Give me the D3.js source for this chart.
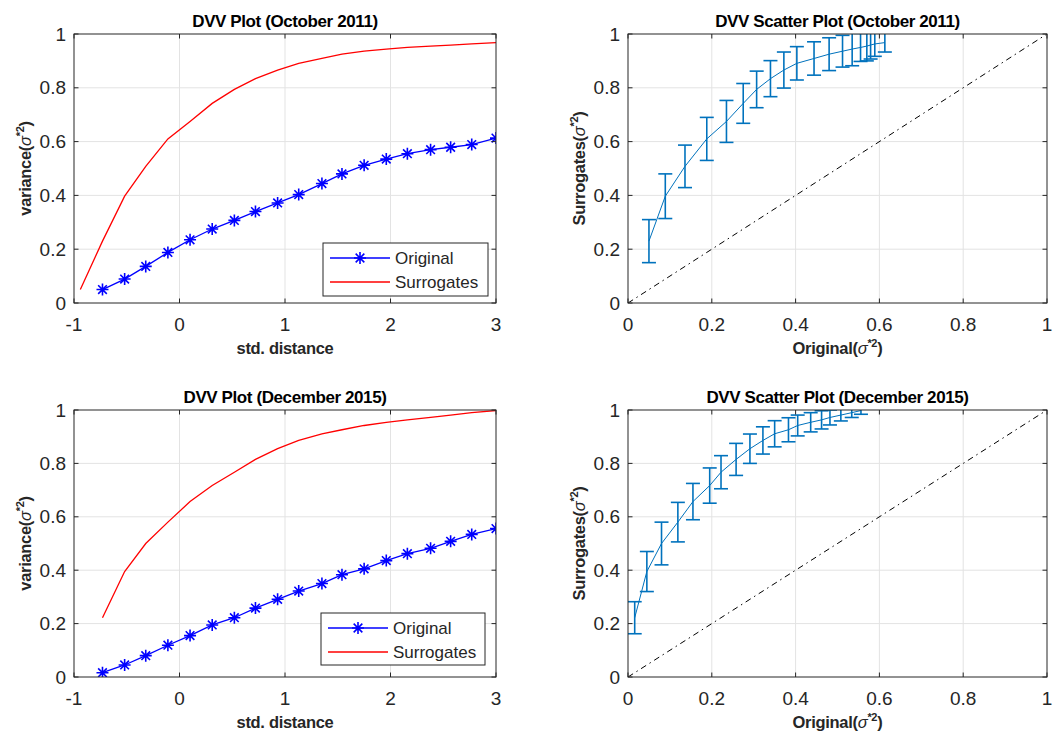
<!DOCTYPE html>
<html>
<head>
<meta charset="utf-8">
<script src="https://cdn.jsdelivr.net/npm/d3@7"></script>
<style>
  html, body { margin: 0; padding: 0; background: #fff; }
  svg { display: block; font-family: "Liberation Sans", Arial, Helvetica, sans-serif; }
</style>
</head>
<body>
<svg id="fig" width="1057" height="738"></svg>
<script>
// ---- data -------------------------------------------------------------
// standardised distances of the DVV curve
const distOriginal = [-0.73, -0.52, -0.32, -0.11, 0.10, 0.31, 0.52, 0.72, 0.93, 1.13,
                      1.35, 1.54, 1.75, 1.96, 2.16, 2.38, 2.57, 2.77, 3.00];
const distSurrOct  = [-0.94, -0.73, -0.52, -0.32, -0.11, 0.10, 0.31, 0.52, 0.72, 0.93,
                      1.13, 1.35, 1.54, 1.75, 1.96, 2.16, 2.38, 2.57, 2.77, 3.00];

// October 2011
const origOct = [0.050, 0.089, 0.136, 0.188, 0.235, 0.275, 0.307, 0.340, 0.372, 0.403,
                 0.444, 0.480, 0.512, 0.535, 0.555, 0.570, 0.579, 0.589, 0.613];
const surrOct = [0.050, 0.230, 0.397, 0.508, 0.610, 0.675, 0.742, 0.794, 0.834, 0.866,
                 0.891, 0.909, 0.925, 0.936, 0.944, 0.950, 0.955, 0.959, 0.963, 0.968];
const errOct  = [0.080, 0.083, 0.079, 0.080, 0.078, 0.074, 0.068, 0.067, 0.067, 0.062,
                 0.062, 0.061, 0.059, 0.062, 0.052, 0.055, 0.052, 0.046, 0.035];

// December 2015
const origDec = [0.016, 0.045, 0.080, 0.119, 0.155, 0.195, 0.222, 0.258, 0.291, 0.322,
                 0.350, 0.383, 0.405, 0.436, 0.462, 0.482, 0.508, 0.534, 0.556];
const surrDec = [0.222, 0.395, 0.500, 0.580, 0.657, 0.717, 0.767, 0.815, 0.855, 0.886,
                 0.911, 0.926, 0.942, 0.954, 0.963, 0.972, 0.981, 0.990, 0.998];
const errDec  = [0.060, 0.075, 0.080, 0.074, 0.068, 0.066, 0.062, 0.060, 0.055, 0.051,
                 0.049, 0.045, 0.039, 0.036, 0.034, 0.028, 0.022, 0.018, 0.014];

const distTicks  = [-1, 0, 1, 2, 3];
const unitTicks  = [0, 0.2, 0.4, 0.6, 0.8, 1];
const legendNames = ["Original", "Surrogates"];

// ---- styling ----------------------------------------------------------
const AX = "#262626", GRID = "#e3e3e3";
const BLUE = "#0000ff", RED = "#ff0000", EB = "#0072bd";
const TICK_FS = 19, LABEL_FS = 16.5, TITLE_FS = 17, LEG_FS = 17;

const svg = d3.select("#fig");

let clipId = 0;

function makeAxes(box, xDomain, xTicks, yTicks, title, xLabel, yLabelMain) {
  const g = svg.append("g");
  const x = d3.scaleLinear().domain(xDomain).range([box.l, box.l + box.w]);
  const y = d3.scaleLinear().domain([0, 1]).range([box.t + box.h, box.t]);

  // grid
  g.append("g").selectAll("line").data(xTicks.slice(1, -1)).join("line")
    .attr("x1", d => x(d)).attr("x2", d => x(d))
    .attr("y1", box.t).attr("y2", box.t + box.h)
    .attr("stroke", GRID).attr("stroke-width", 1);
  g.append("g").selectAll("line").data(yTicks.slice(1, -1)).join("line")
    .attr("y1", d => y(d)).attr("y2", d => y(d))
    .attr("x1", box.l).attr("x2", box.l + box.w)
    .attr("stroke", GRID).attr("stroke-width", 1);

  const id = "clip" + (clipId++);
  svg.append("clipPath").attr("id", id).append("rect")
    .attr("x", box.l).attr("y", box.t).attr("width", box.w).attr("height", box.h);
  const plot = g.append("g").attr("clip-path", `url(#${id})`);

  // box and inward ticks (raised above the data layer later)
  const frame = g.append("g").attr("class", "frame");
  frame.append("rect").attr("x", box.l).attr("y", box.t).attr("width", box.w).attr("height", box.h)
    .attr("fill", "none").attr("stroke", AX).attr("stroke-width", 1);
  const tl = 4.5;
  xTicks.forEach(d => {
    frame.append("line").attr("x1", x(d)).attr("x2", x(d)).attr("y1", box.t + box.h).attr("y2", box.t + box.h - tl).attr("stroke", AX);
    frame.append("line").attr("x1", x(d)).attr("x2", x(d)).attr("y1", box.t).attr("y2", box.t + tl).attr("stroke", AX);
  });
  yTicks.forEach(d => {
    frame.append("line").attr("y1", y(d)).attr("y2", y(d)).attr("x1", box.l).attr("x2", box.l + tl).attr("stroke", AX);
    frame.append("line").attr("y1", y(d)).attr("y2", y(d)).attr("x1", box.l + box.w).attr("x2", box.l + box.w - tl).attr("stroke", AX);
  });

  // tick labels
  g.append("g").selectAll("text").data(xTicks).join("text")
    .attr("x", d => x(d)).attr("y", box.t + box.h + 21).attr("dy", "0.35em")
    .attr("text-anchor", "middle").attr("font-size", TICK_FS).attr("fill", AX)
    .text(d => String(d));
  g.append("g").selectAll("text").data(yTicks).join("text")
    .attr("x", box.l - 8).attr("y", d => y(d)).attr("dy", "0.35em")
    .attr("text-anchor", "end").attr("font-size", TICK_FS).attr("fill", AX)
    .text(d => String(d));

  // title
  g.append("text").attr("x", box.l + box.w / 2).attr("y", box.t - 13).attr("dy", "0.36em")
    .attr("text-anchor", "middle").attr("font-size", TITLE_FS).attr("font-weight", "bold")
    .attr("letter-spacing", "-0.4").attr("fill", "#000").text(title);

  // x label
  sigmaLabel(g.append("text").attr("x", box.l + box.w / 2).attr("y", box.t + box.h + 45).attr("dy", "0.35em"),
             xLabel.main, xLabel.sigma);
  // y label
  const cx = box.l - 49, cy = box.t + box.h / 2;
  sigmaLabel(g.append("text").attr("transform", `translate(${cx},${cy}) rotate(-90)`).attr("dy", "0.35em"),
             yLabelMain.main, yLabelMain.sigma);

  return { g, plot, frame, x, y };
}

function sigmaLabel(t, main, withSigma) {
  t.attr("text-anchor", "middle").attr("font-size", LABEL_FS).attr("font-weight", "bold")
   .attr("letter-spacing", "-0.3").attr("fill", AX);
  t.append("tspan").text(main);
  if (withSigma) {
    t.append("tspan").text("(");
    t.append("tspan").attr("font-style", "italic").attr("font-weight", "normal").text("σ");
    t.append("tspan").attr("dy", -7).attr("font-size", 11).text("*2");
    t.append("tspan").attr("dy", 7).text(")");
  }
}

// asterisk marker path
function asterisk(r) {
  const d = r * 0.72;
  return `M${-r},0H${r}M0,${-r}V${r}M${-d},${-d}L${d},${d}M${-d},${d}L${d},${-d}`;
}

function dvvPlot(box, dOrig, orig, dSurr, surr, title, legBox) {
  const a = makeAxes(box, [-1, 3], distTicks, unitTicks, title,
                     { main: "std. distance", sigma: false },
                     { main: "variance", sigma: true });
  const line = d3.line().x(d => a.x(d[0])).y(d => a.y(d[1]));
  const origPts = d3.zip(dOrig, orig);
  a.plot.append("path").attr("d", line(origPts)).attr("fill", "none")
    .attr("stroke", BLUE).attr("stroke-width", 1.3);
  a.plot.append("g").selectAll("path").data(origPts).join("path")
    .attr("transform", d => `translate(${a.x(d[0])},${a.y(d[1])})`)
    .attr("d", asterisk(6)).attr("stroke", BLUE).attr("stroke-width", 1.6).attr("fill", "none");
  a.plot.append("path").attr("d", line(d3.zip(dSurr, surr))).attr("fill", "none")
    .attr("stroke", RED).attr("stroke-width", 1.3);
  a.frame.raise();

  // legend
  const lg = a.g.append("g");
  lg.append("rect").attr("x", legBox.x).attr("y", legBox.y).attr("width", legBox.w).attr("height", legBox.h)
    .attr("fill", "#fff").attr("stroke", AX).attr("stroke-width", 1);
  const rows = [legBox.y + 15, legBox.y + 39];
  const lx1 = legBox.x + 7, lx2 = legBox.x + 67;
  legendNames.forEach((name, i) => {
    const col = i === 0 ? BLUE : RED;
    lg.append("line").attr("x1", lx1).attr("x2", lx2).attr("y1", rows[i]).attr("y2", rows[i])
      .attr("stroke", col).attr("stroke-width", 1.3);
    if (i === 0) lg.append("path").attr("transform", `translate(${(lx1 + lx2) / 2},${rows[i]})`)
      .attr("d", asterisk(6)).attr("stroke", col).attr("stroke-width", 1.6);
    lg.append("text").attr("x", legBox.x + 72).attr("y", rows[i]).attr("dy", "0.35em")
      .attr("font-size", LEG_FS).attr("fill", AX).text(name);
  });
}

function scatterPlot(box, orig, surr, err, title) {
  const a = makeAxes(box, [0, 1], unitTicks, unitTicks, title,
                     { main: "Original", sigma: true },
                     { main: "Surrogates", sigma: true });
  // identity reference line
  a.plot.append("line").attr("x1", a.x(0)).attr("y1", a.y(0)).attr("x2", a.x(1)).attr("y2", a.y(1))
    .attr("stroke", "#000").attr("stroke-width", 1).attr("stroke-dasharray", "6,4,1.5,4");

  const pts = d3.zip(orig, surr, err);
  a.plot.append("path").attr("d", d3.line().x(d => a.x(d[0])).y(d => a.y(d[1]))(pts))
    .attr("fill", "none").attr("stroke", EB).attr("stroke-width", 1);
  const cap = 7;
  const bars = a.plot.append("g").attr("stroke", EB).attr("stroke-width", 1.6);
  pts.forEach(d => {
    const px = a.x(d[0]), y1 = a.y(d[1] - d[2]), y2 = a.y(d[1] + d[2]);
    bars.append("line").attr("x1", px).attr("x2", px).attr("y1", y1).attr("y2", y2);
    bars.append("line").attr("x1", px - cap).attr("x2", px + cap).attr("y1", y1).attr("y2", y1);
    bars.append("line").attr("x1", px - cap).attr("x2", px + cap).attr("y1", y2).attr("y2", y2);
  });
  a.frame.raise();
}

dvvPlot({ l: 74, t: 34, w: 422, h: 269 }, distOriginal, origOct, distSurrOct, surrOct,
        "DVV Plot (October 2011)", { x: 323, y: 243, w: 165, h: 53 });
scatterPlot({ l: 628, t: 34, w: 419, h: 269 }, origOct, surrOct.slice(1), errOct,
        "DVV Scatter Plot (October 2011)");
dvvPlot({ l: 74, t: 410, w: 422, h: 267 }, distOriginal, origDec, distOriginal, surrDec,
        "DVV Plot (December 2015)", { x: 321, y: 613, w: 164, h: 52 });
scatterPlot({ l: 628, t: 410, w: 419, h: 267 }, origDec, surrDec, errDec,
        "DVV Scatter Plot (December 2015)");
</script>
</body>
</html>
